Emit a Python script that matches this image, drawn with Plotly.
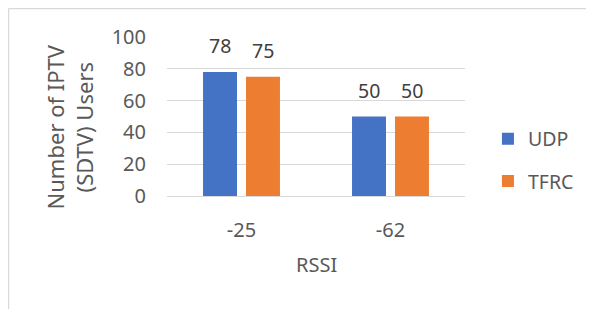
import plotly.graph_objects as go

categories = ["-25", "-62"]
udp = [78, 50]
tfrc = [75, 50]
series_names = ["UDP", "TFRC"]
y_ticks = [0, 20, 40, 60, 80, 100]

FONT = "Noto Sans"
TXT = "#595959"
GRID = "#D9D9D9"
COLORS = ["#4472C4", "#ED7D31"]

pos = list(range(len(categories)))

fig = go.Figure()
for i, (name, vals) in enumerate(zip(series_names, [udp, tfrc])):
    fig.add_trace(go.Bar(
        x=pos, y=vals, name=name, marker_color=COLORS[i],
        marker_line_width=0, legendgroup=name,
    ))

# data labels
slot_px = 43
for i, vals in enumerate([udp, tfrc]):
    shift = (i - 0.5) * slot_px
    for p, v in zip(pos, vals):
        fig.add_annotation(x=p, y=v, xref="x", yref="y", text=str(v),
                           showarrow=False, xshift=shift, yshift=11,
                           xanchor="center", yanchor="bottom",
                           font=dict(family=FONT, size=19.5, color="#404040"))

fig.add_annotation(xref="paper", yref="paper", x=-0.324, y=0.434,
                   xanchor="center", yanchor="middle",
                   text="Number of IPTV<br>(SDTV) Users", textangle=-90,
                   showarrow=False, font=dict(family=FONT, size=22, color=TXT))
fig.add_annotation(xref="paper", yref="paper", x=0.5, y=-0.428,
                   xanchor="center", yanchor="middle",
                   text="RSSI", showarrow=False,
                   font=dict(family=FONT, size=20, color=TXT))

# outer border (top and left edges)
fig.add_shape(type="line", xref="paper", yref="paper", x0=-0.532, x1=1.5,
              y0=1.179, y1=1.179, line=dict(color=GRID, width=1.5))
fig.add_shape(type="line", xref="paper", yref="paper", x0=-0.532, x1=-0.532,
              y0=1.179, y1=-0.8, line=dict(color=GRID, width=1.5))

fig.update_layout(
    width=586, height=301,
    margin=dict(l=159, r=129, t=29, b=113, autoexpand=False),
    paper_bgcolor="white", plot_bgcolor="white",
    barmode="group", bargap=0.423, bargroupgap=0.21,
    font=dict(family=FONT, color=TXT, size=20),
    showlegend=True,
    legend=dict(x=1.077, y=0.226, xanchor="left", yanchor="middle",
                font=dict(family=FONT, size=19.5, color=TXT),
                traceorder="grouped", tracegroupgap=14,
                itemwidth=30, bgcolor="rgba(0,0,0,0)"),
    xaxis=dict(range=[-0.5, len(categories) - 0.5], tickvals=pos,
               ticktext=categories, showgrid=False, showline=True,
               linecolor=GRID, linewidth=1, ticks="",
               tickfont=dict(size=20, color=TXT),
               ticklabelstandoff=16, fixedrange=True),
    yaxis=dict(range=[0, 100], tickvals=y_ticks, showgrid=True, gridcolor=GRID,
               gridwidth=1, zeroline=False, showline=False, ticks="",
               tickfont=dict(size=20, color=TXT), ticklabelstandoff=20,
               fixedrange=True),
)

fig.write_html("out.html")
